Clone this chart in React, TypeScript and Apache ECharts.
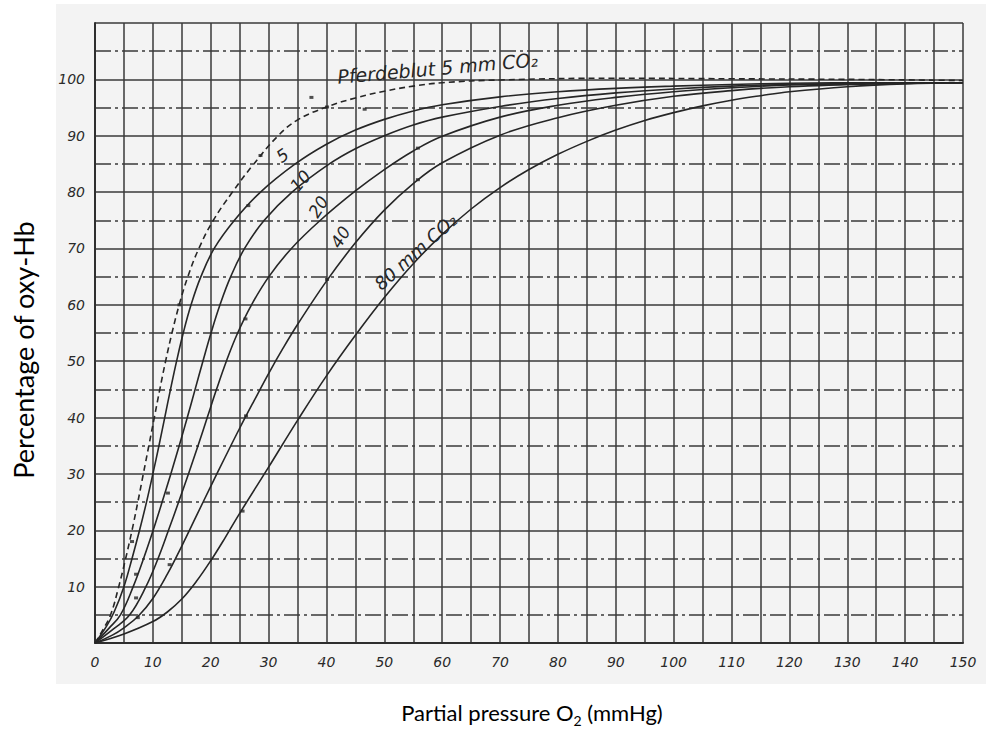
import React, { useEffect, useRef } from "react";
import * as echarts from "echarts";

// Axis ranges (mmHg O2, % oxy-Hb)
const X_MIN = 0;
const X_MAX = 150;
const Y_MIN = 0;
const Y_MAX = 110;

// Curves: [partial pressure O2, % oxy-Hb]
const horseBlood5mm: [number, number][] = [
  [0, 0], [1.4, 2.4], [2.7, 5], [4.1, 10], [5.3, 15], [6.4, 20], [7.4, 25], [8.35, 30],
  [9.3, 35], [10.25, 40], [11.2, 45], [12.2, 50], [13.3, 55], [14.55, 60], [16.05, 65],
  [17.95, 70], [20.45, 75], [23.75, 80], [27.45, 85], [31.65, 90], [35, 92.8], [40, 95.1],
  [45, 96.7], [50, 97.9], [55, 98.8], [60, 99.4], [70, 99.9], [90, 100.2], [110, 100.1],
  [130, 100], [150, 99.8],
];

const co2_5mm: [number, number][] = [
  [0, 0], [2, 3], [3.3, 5.5], [5, 10], [6.4, 15], [7.7, 20], [8.9, 25], [10, 30],
  [11.05, 35], [12.05, 40], [13.05, 45], [14.1, 50], [15.25, 55], [16.6, 60], [18.3, 65],
  [20.6, 70], [24.1, 75], [28.6, 80], [34.6, 85], [40, 88.5], [45, 91], [50, 92.9],
  [55, 94.4], [60, 95.5], [70, 96.9], [80, 97.8], [90, 98.4], [100, 98.8], [110, 99.1],
  [120, 99.3], [135, 99.4], [150, 99.4],
];

const co2_10mm: [number, number][] = [
  [0, 0], [2.4, 2.6], [4.4, 5], [6.6, 10], [8.4, 15], [10.05, 20], [11.6, 25], [13.1, 30],
  [14.55, 35], [15.95, 40], [17.3, 45], [18.65, 50], [20.05, 55], [21.6, 60], [23.45, 65],
  [25.85, 70], [29.25, 75], [34.05, 80], [40.5, 85], [45, 87.7], [50, 90], [55, 91.9],
  [60, 93.3], [70, 95.2], [80, 96.6], [90, 97.6], [100, 98.3], [110, 98.8], [120, 99.1],
  [135, 99.3], [150, 99.4],
];

const co2_20mm: [number, number][] = [
  [0, 0], [3.2, 2.5], [6, 5], [8.8, 10], [10.9, 15], [12.7, 20], [14.45, 25], [16.15, 30],
  [17.8, 35], [19.4, 40], [21, 45], [22.7, 50], [24.65, 55], [27.05, 60], [30.05, 65],
  [33.95, 70], [38.95, 75], [45, 80.2], [50, 84], [55, 87.3], [60, 89.9], [70, 93.3],
  [80, 95.4], [90, 96.8], [100, 97.8], [110, 98.5], [120, 99], [135, 99.3], [150, 99.4],
];

const co2_40mm: [number, number][] = [
  [0, 0], [3, 1.4], [5, 2.7], [7.5, 4.8], [10, 7.9], [12.5, 12.2], [15, 17.2], [17.5, 22.5],
  [20, 27.8], [22.5, 33], [25, 38.1], [27.5, 43], [30, 47.8], [32.5, 52.3], [35, 56.5],
  [40, 64.2], [45, 71], [50, 76.8], [55, 81.5], [60, 85.2], [70, 90.1], [80, 93.2],
  [90, 95.4], [100, 97], [110, 98], [120, 98.7], [135, 99.2], [150, 99.4],
];

const co2_80mm: [number, number][] = [
  [0, 0], [5, 1.6], [10, 3.8], [12.5, 5.5], [15, 7.8], [17.5, 10.9], [20, 14.6],
  [22.5, 18.7], [25, 23], [30, 31.2], [35, 39.5], [40, 47.4], [45, 54.6], [50, 61.3],
  [55, 67.3], [60, 72.5], [65, 77], [70, 80.8], [75, 84], [80, 86.7], [85, 89], [90, 91],
  [95, 92.7], [100, 94.1], [105, 95.3], [110, 96.3], [115, 97.1], [120, 97.8], [130, 98.7],
  [140, 99.2], [150, 99.4],
];

// Individual measurement marks visible near the curves
const measuredPoints: [number, number][] = [
  [6.4, 18], [14.6, 60], [28.6, 86.5], [40.1, 95.1], [37.4, 96.8], [46.6, 94.7],
  [26.5, 77.6], [7.1, 12.2], [12.6, 26.6], [7.1, 8], [12.9, 13.9], [7.4, 4.5],
  [26, 57.5], [26.1, 40.3], [25.5, 23.4], [40.1, 64.5], [55.8, 87.8], [55.8, 82.2],
];

// Curve annotations anchored in data coordinates
const curveLabels = [
  { text: "Pferdeblut 5 mm CO₂", at: [59.2, 102], rot: 5, size: 19 },
  { text: "5", at: [32.4, 86.5], rot: 35, size: 17 },
  { text: "10", at: [35.5, 82], rot: 50, size: 17 },
  { text: "20", at: [38.6, 77.4], rot: 58, size: 17 },
  { text: "40", at: [42.4, 72], rot: 58, size: 17 },
  { text: "80 mm CO₂", at: [55.4, 69.4], rot: 42, size: 18 },
];

const xTitle = "Partial pressure O₂ (mmHg)";
const yTitle = "Percentage of oxy-Hb";

export default function App() {
  const ref = useRef<HTMLDivElement>(null);

  useEffect(() => {
    const el = ref.current!;
    const chart = echarts.init(el, null, { renderer: "svg" });
    const ink = "#262626";
    const gridInk = "#3a3a3a";
    const tickFont = {
      color: "#2a2a2a",
      fontSize: 14,
      fontStyle: "italic" as const,
      fontFamily: "DejaVu Sans",
    };

    const line = (name: string, data: [number, number][], dashed = false) => ({
      type: "line",
      name,
      data,
      smooth: 0.4,
      symbol: "none",
      silent: true,
      lineStyle: { color: ink, width: 1.6, type: dashed ? [6, 4] : "solid" },
      z: 3,
    });

    chart.setOption({
      animation: false,
      backgroundColor: "#ffffff",
      grid: { left: 95, right: 41, top: 23, bottom: 99, containLabel: false },
      xAxis: {
        type: "value",
        min: X_MIN,
        max: X_MAX,
        interval: 10,
        axisLine: { show: true, lineStyle: { color: "#2e2e2e", width: 2 } },
        axisTick: { show: false },
        minorTick: { show: false, splitNumber: 2 },
        splitLine: { show: true, lineStyle: { color: gridInk, width: 1.5 } },
        minorSplitLine: { show: true, lineStyle: { color: gridInk, width: 1.5 } },
        axisLabel: { ...tickFont, margin: 12 },
      },
      yAxis: {
        type: "value",
        min: Y_MIN,
        max: Y_MAX,
        interval: 10,
        axisLine: { show: true, lineStyle: { color: "#2e2e2e", width: 2 } },
        axisTick: { show: false },
        minorTick: { show: false, splitNumber: 2 },
        splitLine: { show: true, lineStyle: { color: gridInk, width: 1.5 } },
        minorSplitLine: {
          show: true,
          lineStyle: { color: gridInk, width: 1.5, type: [16, 4, 3, 4] },
        },
        axisLabel: {
          ...tickFont,
          margin: 10,
          formatter: (v: number) => (v === Y_MIN || v === Y_MAX ? "" : String(v)),
        },
      },
      series: [
        line("Pferdeblut 5 mm CO₂", horseBlood5mm, true),
        line("5 mm CO₂", co2_5mm),
        line("10 mm CO₂", co2_10mm),
        line("20 mm CO₂", co2_20mm),
        line("40 mm CO₂", co2_40mm),
        line("80 mm CO₂", co2_80mm),
        {
          type: "scatter",
          name: "measurements",
          data: measuredPoints,
          symbol: "rect",
          symbolSize: [4, 3],
          itemStyle: { color: ink },
          silent: true,
          z: 4,
        },
      ],
    });

    const labels = curveLabels.map((l) => {
      const p = chart.convertToPixel({ gridIndex: 0 }, l.at) as number[];
      return {
        type: "text",
        x: p[0],
        y: p[1],
        rotation: (l.rot * Math.PI) / 180,
        z: 10,
        style: {
          text: l.text,
          fill: ink,
          font: `italic ${l.size}px "DejaVu Sans"`,
          align: "center",
          verticalAlign: "middle",
        },
      };
    });

    chart.setOption({
      graphic: [
        {
          type: "rect",
          z: -100,
          silent: true,
          shape: { x: 56, y: 4, width: 930, height: 680 },
          style: { fill: "#f3f3f3" },
        },
        {
          type: "text",
          x: 532,
          y: 712,
          z: 10,
          style: {
            text: "{a|Partial pressure O}{s|2}{a| (mmHg)}",
            align: "center",
            verticalAlign: "middle",
            rich: {
              a: { fontSize: 22, fontFamily: "Lato", fill: "#000", lineHeight: 30 },
              s: { fontSize: 14, fontFamily: "Lato", fill: "#000", lineHeight: 14, verticalAlign: "bottom" },
            },
          },
        },
        {
          type: "text",
          x: 23,
          y: 350,
          rotation: Math.PI / 2,
          z: 10,
          style: {
            text: yTitle,
            font: '27px "Lato"',
            fill: "#000",
            align: "center",
            verticalAlign: "middle",
          },
        },
        ...labels,
      ],
    });

    return () => chart.dispose();
  }, []);

  return (
    <div
      ref={ref}
      aria-label={xTitle}
      style={{ position: "absolute", left: 0, top: 0, width: 1004, height: 742 }}
    />
  );
}
